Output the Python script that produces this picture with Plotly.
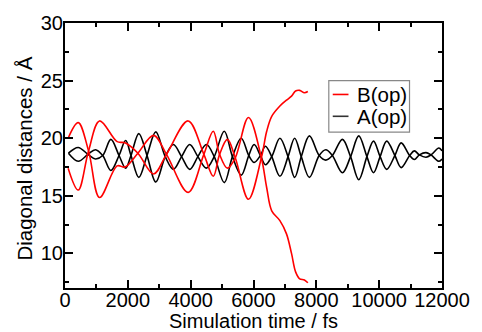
import plotly.graph_objects as go

# ---- data ----
# A(op): two black distances (times in fs, values in Å)
a_time = [110, 420, 730, 970, 1200, 1460, 1720, 1930, 2100, 2350, 2610, 2890, 3190, 3450,
          3710, 3970, 4230, 4500, 4750, 5070, 5330, 5610, 5850, 6020, 6220, 6380, 6580, 6840,
          7100, 7310, 7520, 7780, 8090, 8300, 8510, 8830, 9090, 9350, 9610, 9820, 10030,
          10240, 10500, 10700, 10970, 11120, 11280, 11490, 11650, 11900, 12000]
a1_vals = [18.7, 19.2, 18.6, 18.2, 18.5, 19.9, 18.5, 17.4, 18.5, 20.4, 18.5, 16.2, 18.4, 19.45,
           18.4, 17.3, 18.4, 19.45, 18.4, 16.15, 18.4, 20.0, 18.5, 17.9, 18.5, 19.3, 18.4, 16.7,
           18.4, 20.0, 18.4, 16.6, 18.5, 19.0, 18.5, 17.0, 18.4, 20.2, 18.4, 17.0, 18.4,
           19.75, 18.5, 17.45, 18.5, 18.9, 18.55, 18.35, 18.55, 19.15, 18.9]
a2_vals = [18.7, 18.0, 18.6, 19.0, 18.5, 17.2, 18.5, 19.8, 18.5, 16.6, 18.5, 20.55, 18.4, 17.3,
           18.4, 19.45, 18.4, 17.4, 18.4, 20.6, 18.4, 16.8, 18.5, 19.45, 18.5, 17.7, 18.4, 20.0,
           18.4, 16.6, 18.4, 20.2, 18.5, 18.1, 18.5, 19.9, 18.4, 16.4, 18.4, 19.75, 18.4,
           17.3, 18.5, 19.6, 18.5, 18.15, 18.55, 18.75, 18.55, 18.0, 18.2]

# B(op): two red distances
b_time = [100, 420, 750, 1100, 1660, 1910, 2320, 2820, 3230, 3920, 4420, 4720, 4920, 5170,
          5420, 5840, 6250, 6420, 6580, 6840, 7050, 7210, 7340, 7470, 7620, 7730]
b1_vals = [20.0, 21.35, 18.9, 14.85, 17.6, 17.5, 18.7, 20.25, 18.6, 15.3, 18.6, 20.6, 18.6, 17.4,
           18.3, 21.8, 18.3, 15.7, 13.7, 12.85, 11.7, 10.0, 8.4, 7.8, 7.7, 7.45]
b2_vals = [17.4, 15.5, 18.9, 21.5, 19.7, 19.6, 18.7, 16.9, 18.6, 21.5, 18.6, 16.7, 18.6, 19.9,
           18.3, 14.7, 18.3, 20.6, 21.9, 22.8, 23.3, 23.65, 24.1, 24.15, 23.95, 24.05]

x_ticks = [0, 2000, 4000, 6000, 8000, 10000, 12000]
y_ticks = [10, 15, 20, 25, 30]
legend_names = ["B(op)", "A(op)"]
legend_colors = ["#ff0000", "#333333"]
x_title = "Simulation time / fs"
y_title = "Diagonal distances / Å"

FONT = "Liberation Sans, Arial, Helvetica, sans-serif"

fig = go.Figure()
for vals in (a1_vals, a2_vals):
    fig.add_trace(go.Scatter(x=a_time, y=vals, mode="lines", line=dict(color="#000000", width=1.6, shape="spline"),
                             showlegend=False, hoverinfo="skip"))
for vals in (b1_vals, b2_vals):
    fig.add_trace(go.Scatter(x=b_time, y=vals, mode="lines", line=dict(color="#ff0000", width=1.6, shape="spline"),
                             showlegend=False, hoverinfo="skip"))

W, H = 482, 332
L, R, T, B = 65, 34, 21, 44
pw, ph = W - L - R, H - T - B

def px(xp):
    return (xp - L) / pw

def py(yp):
    return (H - B - yp) / ph

# manual legend
shapes = [dict(type="rect", xref="paper", yref="paper", x0=px(333), x1=px(415), y0=py(131), y1=py(79),
               line=dict(color="#888888", width=1.2), fillcolor="white", layer="above")]
annotations = []
rows = [93, 115]
for name, col, yy in zip(legend_names, legend_colors, rows):
    shapes.append(dict(type="line", xref="paper", yref="paper", x0=px(337), x1=px(353), y0=py(yy), y1=py(yy),
                       line=dict(color=col, width=1.6), layer="above"))
    annotations.append(dict(xref="paper", yref="paper", x=px(360), y=py(yy), text=name, showarrow=False,
                            xanchor="left", yanchor="middle", font=dict(family=FONT, size=20.5, color="black")))

# axis titles
annotations.append(dict(xref="paper", yref="paper", x=px(256), y=py(321.5), text=x_title, showarrow=False,
                        xanchor="center", yanchor="middle", font=dict(family=FONT, size=20, color="black")))
annotations.append(dict(xref="paper", yref="paper", x=px(24), y=py(158), text=y_title, showarrow=False,
                        textangle=-90, xanchor="center", yanchor="middle",
                        font=dict(family=FONT, size=20.5, color="black")))

axis_common = dict(showline=True, linecolor="black", linewidth=2, mirror="allticks", ticks="inside",
                   ticklen=8, tickwidth=1.5, tickcolor="black", showgrid=False, zeroline=False,
                   tickfont=dict(family=FONT, size=20, color="black"))

fig.update_layout(
    width=W, height=H, margin=dict(l=L, r=R, t=T, b=B),
    paper_bgcolor="white", plot_bgcolor="white",
    shapes=shapes, annotations=annotations, showlegend=False,
    xaxis=dict(range=[0, 12000], tickvals=x_ticks, ticktext=[str(v) for v in x_ticks],
               ticklabelstandoff=-7,
               minor=dict(ticks="inside", ticklen=4, tickwidth=1.5, tickcolor="black", dtick=1000, tick0=0),
               **axis_common),
    yaxis=dict(range=[7, 30], tickvals=y_ticks, ticktext=[str(v) for v in y_ticks],
               ticklabelstandoff=-4,
               minor=dict(ticks="inside", ticklen=4, tickwidth=1.5, tickcolor="black", dtick=2.5, tick0=0),
               **axis_common),
)

fig.write_html("out.html")
